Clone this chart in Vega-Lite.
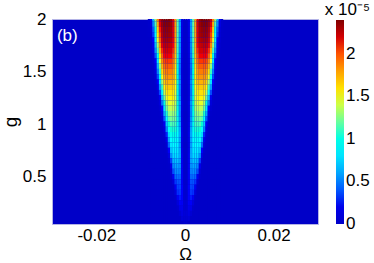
{
  "$schema": "https://vega.github.io/schema/vega-lite/v6.json",
  "width": 266,
  "height": 205,
  "autosize": "none",
  "padding": {"left": 52, "top": 19, "right": 56, "bottom": 39},
  "config": {
    "font": "Liberation Sans",
    "view": {"fill": "#0000c8", "stroke": "#b4b4e6", "strokeWidth": 1}
  },
  "datasets": {
    "heat": [
      {"g": 1.975, "g2": 2.025, "o": [-0.0085,-0.008,-0.0075,-0.007,-0.0065,-0.006,-0.0055,-0.005,-0.0045,-0.004,-0.0035,-0.003,-0.0025,-0.002,-0.0015,-0.001,-0.0005,0,0.0005,0.001,0.0015,0.002,0.0025,0.003,0.0035,0.004,0.0045,0.005,0.0055,0.006,0.0065,0.007,0.0075,0.008], "v": [0.04,0.21,0.65,1.3,1.87,2.23,2.36,2.4,2.4,2.4,2.35,2.18,1.8,1.18,0.55,0.17,0.03,0.03,0.17,0.55,1.18,1.8,2.18,2.35,2.4,2.4,2.4,2.36,2.23,1.87,1.3,0.65,0.21,0.04]},
      {"g": 1.925, "g2": 1.975, "o": [-0.0085,-0.008,-0.0075,-0.007,-0.0065,-0.006,-0.0055,-0.005,-0.0045,-0.004,-0.0035,-0.003,-0.0025,-0.002,-0.0015,-0.001,-0.0005,0,0.0005,0.001,0.0015,0.002,0.0025,0.003,0.0035,0.004,0.0045,0.005,0.0055,0.006,0.0065,0.007,0.0075,0.008], "v": [0.02,0.15,0.52,1.15,1.75,2.17,2.33,2.38,2.38,2.38,2.34,2.18,1.8,1.18,0.55,0.16,0.02,0.02,0.16,0.55,1.18,1.8,2.18,2.34,2.38,2.38,2.38,2.33,2.17,1.75,1.15,0.52,0.15,0.02]},
      {"g": 1.875, "g2": 1.925, "o": [-0.0085,-0.008,-0.0075,-0.007,-0.0065,-0.006,-0.0055,-0.005,-0.0045,-0.004,-0.0035,-0.003,-0.0025,-0.002,-0.0015,-0.001,-0.0005,0,0.0005,0.001,0.0015,0.002,0.0025,0.003,0.0035,0.004,0.0045,0.005,0.0055,0.006,0.0065,0.007,0.0075,0.008], "v": [0.01,0.09,0.4,0.99,1.63,2.09,2.29,2.35,2.35,2.35,2.32,2.16,1.8,1.18,0.54,0.15,0.02,0.02,0.15,0.54,1.18,1.8,2.16,2.32,2.35,2.35,2.35,2.29,2.09,1.63,0.99,0.4,0.09,0.01]},
      {"g": 1.825, "g2": 1.875, "o": [-0.0085,-0.008,-0.0075,-0.007,-0.0065,-0.006,-0.0055,-0.005,-0.0045,-0.004,-0.0035,-0.003,-0.0025,-0.002,-0.0015,-0.001,-0.0005,0,0.0005,0.001,0.0015,0.002,0.0025,0.003,0.0035,0.004,0.0045,0.005,0.0055,0.006,0.0065,0.007,0.0075,0.008], "v": [0.01,0.07,0.35,0.91,1.55,2.04,2.26,2.33,2.33,2.33,2.31,2.16,1.79,1.16,0.54,0.15,0.02,0.02,0.15,0.54,1.16,1.79,2.16,2.31,2.33,2.33,2.33,2.26,2.04,1.55,0.91,0.35,0.07,0.01]},
      {"g": 1.775, "g2": 1.825, "o": [-0.0085,-0.008,-0.0075,-0.007,-0.0065,-0.006,-0.0055,-0.005,-0.0045,-0.004,-0.0035,-0.003,-0.0025,-0.002,-0.0015,-0.001,-0.0005,0,0.0005,0.001,0.0015,0.002,0.0025,0.003,0.0035,0.004,0.0045,0.005,0.0055,0.006,0.0065,0.007,0.0075,0.008], "v": [0,0.06,0.3,0.83,1.47,1.98,2.22,2.3,2.3,2.3,2.28,2.14,1.77,1.15,0.53,0.14,0.02,0.02,0.14,0.53,1.15,1.77,2.14,2.28,2.3,2.3,2.3,2.22,1.98,1.47,0.83,0.3,0.06,0]},
      {"g": 1.725, "g2": 1.775, "o": [-0.0085,-0.008,-0.0075,-0.007,-0.0065,-0.006,-0.0055,-0.005,-0.0045,-0.004,-0.0035,-0.003,-0.0025,-0.002,-0.0015,-0.001,-0.0005,0,0.0005,0.001,0.0015,0.002,0.0025,0.003,0.0035,0.004,0.0045,0.005,0.0055,0.006,0.0065,0.007,0.0075,0.008], "v": [0,0.03,0.21,0.67,1.32,1.88,2.15,2.25,2.25,2.25,2.23,2.1,1.76,1.14,0.51,0.13,0.02,0.02,0.13,0.51,1.14,1.76,2.1,2.23,2.25,2.25,2.25,2.15,1.88,1.32,0.67,0.21,0.03,0]},
      {"g": 1.675, "g2": 1.725, "o": [-0.0085,-0.008,-0.0075,-0.007,-0.0065,-0.006,-0.0055,-0.005,-0.0045,-0.004,-0.0035,-0.003,-0.0025,-0.002,-0.0015,-0.001,-0.0005,0,0.0005,0.001,0.0015,0.002,0.0025,0.003,0.0035,0.004,0.0045,0.005,0.0055,0.006,0.0065,0.007,0.0075,0.008], "v": [0,0.02,0.13,0.53,1.16,1.76,2.07,2.19,2.2,2.2,2.2,2.07,1.74,1.12,0.5,0.13,0.02,0.02,0.13,0.5,1.12,1.74,2.07,2.2,2.2,2.2,2.19,2.07,1.76,1.16,0.53,0.13,0.02,0]},
      {"g": 1.625, "g2": 1.675, "o": [-0.0085,-0.008,-0.0075,-0.007,-0.0065,-0.006,-0.0055,-0.005,-0.0045,-0.004,-0.0035,-0.003,-0.0025,-0.002,-0.0015,-0.001,-0.0005,0,0.0005,0.001,0.0015,0.002,0.0025,0.003,0.0035,0.004,0.0045,0.005,0.0055,0.006,0.0065,0.007,0.0075,0.008], "v": [0,0.01,0.08,0.39,0.99,1.61,1.97,2.11,2.13,2.13,2.13,2.01,1.69,1.1,0.48,0.12,0.01,0.01,0.12,0.48,1.1,1.69,2.01,2.13,2.13,2.13,2.11,1.97,1.61,0.99,0.39,0.08,0.01,0]},
      {"g": 1.575, "g2": 1.625, "o": [-0.0085,-0.008,-0.0075,-0.007,-0.0065,-0.006,-0.0055,-0.005,-0.0045,-0.004,-0.0035,-0.003,-0.0025,-0.002,-0.0015,-0.001,-0.0005,0,0.0005,0.001,0.0015,0.002,0.0025,0.003,0.0035,0.004,0.0045,0.005,0.0055,0.006,0.0065,0.007,0.0075,0.008], "v": [0,0,0.05,0.28,0.81,1.46,1.86,2.02,2.05,2.05,2.05,1.95,1.66,1.07,0.46,0.1,0.01,0.01,0.1,0.46,1.07,1.66,1.95,2.05,2.05,2.05,2.02,1.86,1.46,0.81,0.28,0.05,0,0]},
      {"g": 1.525, "g2": 1.575, "o": [-0.0085,-0.008,-0.0075,-0.007,-0.0065,-0.006,-0.0055,-0.005,-0.0045,-0.004,-0.0035,-0.003,-0.0025,-0.002,-0.0015,-0.001,-0.0005,0,0.0005,0.001,0.0015,0.002,0.0025,0.003,0.0035,0.004,0.0045,0.005,0.0055,0.006,0.0065,0.007,0.0075,0.008], "v": [0,0,0.02,0.19,0.64,1.29,1.74,1.94,1.98,1.98,1.98,1.89,1.6,1.04,0.44,0.1,0.01,0.01,0.1,0.44,1.04,1.6,1.89,1.98,1.98,1.98,1.94,1.74,1.29,0.64,0.19,0.02,0,0]},
      {"g": 1.475, "g2": 1.525, "o": [-0.0085,-0.008,-0.0075,-0.007,-0.0065,-0.006,-0.0055,-0.005,-0.0045,-0.004,-0.0035,-0.003,-0.0025,-0.002,-0.0015,-0.001,-0.0005,0,0.0005,0.001,0.0015,0.002,0.0025,0.003,0.0035,0.004,0.0045,0.005,0.0055,0.006,0.0065,0.007,0.0075,0.008], "v": [0,0,0.01,0.11,0.49,1.12,1.62,1.84,1.9,1.9,1.9,1.82,1.56,1.01,0.42,0.09,0.01,0.01,0.09,0.42,1.01,1.56,1.82,1.9,1.9,1.9,1.84,1.62,1.12,0.49,0.11,0.01,0,0]},
      {"g": 1.425, "g2": 1.475, "o": [-0.0085,-0.008,-0.0075,-0.007,-0.0065,-0.006,-0.0055,-0.005,-0.0045,-0.004,-0.0035,-0.003,-0.0025,-0.002,-0.0015,-0.001,-0.0005,0,0.0005,0.001,0.0015,0.002,0.0025,0.003,0.0035,0.004,0.0045,0.005,0.0055,0.006,0.0065,0.007,0.0075,0.008], "v": [0,0,0,0.07,0.37,0.95,1.48,1.75,1.83,1.83,1.83,1.78,1.56,1.04,0.46,0.1,0.01,0.01,0.1,0.46,1.04,1.56,1.78,1.83,1.83,1.83,1.75,1.48,0.95,0.37,0.07,0,0,0]},
      {"g": 1.375, "g2": 1.425, "o": [-0.0085,-0.008,-0.0075,-0.007,-0.0065,-0.006,-0.0055,-0.005,-0.0045,-0.004,-0.0035,-0.003,-0.0025,-0.002,-0.0015,-0.001,-0.0005,0,0.0005,0.001,0.0015,0.002,0.0025,0.003,0.0035,0.004,0.0045,0.005,0.0055,0.006,0.0065,0.007,0.0075,0.008], "v": [0,0,0,0.04,0.25,0.79,1.32,1.65,1.75,1.75,1.75,1.72,1.53,1.07,0.5,0.12,0.01,0.01,0.12,0.5,1.07,1.53,1.72,1.75,1.75,1.75,1.65,1.32,0.79,0.25,0.04,0,0,0]},
      {"g": 1.325, "g2": 1.375, "o": [-0.0085,-0.008,-0.0075,-0.007,-0.0065,-0.006,-0.0055,-0.005,-0.0045,-0.004,-0.0035,-0.003,-0.0025,-0.002,-0.0015,-0.001,-0.0005,0,0.0005,0.001,0.0015,0.002,0.0025,0.003,0.0035,0.004,0.0045,0.005,0.0055,0.006,0.0065,0.007,0.0075,0.008], "v": [0,0,0,0.01,0.13,0.57,1.13,1.52,1.66,1.68,1.68,1.65,1.49,1.05,0.48,0.11,0.01,0.01,0.11,0.48,1.05,1.49,1.65,1.68,1.68,1.66,1.52,1.13,0.57,0.13,0.01,0,0,0]},
      {"g": 1.275, "g2": 1.325, "o": [-0.0085,-0.008,-0.0075,-0.007,-0.0065,-0.006,-0.0055,-0.005,-0.0045,-0.004,-0.0035,-0.003,-0.0025,-0.002,-0.0015,-0.001,-0.0005,0,0.0005,0.001,0.0015,0.002,0.0025,0.003,0.0035,0.004,0.0045,0.005,0.0055,0.006,0.0065,0.007,0.0075,0.008], "v": [0,0,0,0,0.06,0.37,0.91,1.38,1.57,1.6,1.6,1.58,1.44,1.02,0.46,0.1,0.01,0.01,0.1,0.46,1.02,1.44,1.58,1.6,1.6,1.57,1.38,0.91,0.37,0.06,0,0,0,0]},
      {"g": 1.225, "g2": 1.275, "o": [-0.0085,-0.008,-0.0075,-0.007,-0.0065,-0.006,-0.0055,-0.005,-0.0045,-0.004,-0.0035,-0.003,-0.0025,-0.002,-0.0015,-0.001,-0.0005,0,0.0005,0.001,0.0015,0.002,0.0025,0.003,0.0035,0.004,0.0045,0.005,0.0055,0.006,0.0065,0.007,0.0075,0.008], "v": [0,0,0,0,0.02,0.21,0.7,1.21,1.47,1.53,1.53,1.53,1.42,1.04,0.5,0.11,0.01,0.01,0.11,0.5,1.04,1.42,1.53,1.53,1.53,1.47,1.21,0.7,0.21,0.02,0,0,0,0]},
      {"g": 1.175, "g2": 1.225, "o": [-0.0085,-0.008,-0.0075,-0.007,-0.0065,-0.006,-0.0055,-0.005,-0.0045,-0.004,-0.0035,-0.003,-0.0025,-0.002,-0.0015,-0.001,-0.0005,0,0.0005,0.001,0.0015,0.002,0.0025,0.003,0.0035,0.004,0.0045,0.005,0.0055,0.006,0.0065,0.007,0.0075,0.008], "v": [0,0,0,0,0.01,0.1,0.48,1.02,1.35,1.45,1.45,1.45,1.37,1.06,0.54,0.13,0.01,0.01,0.13,0.54,1.06,1.37,1.45,1.45,1.45,1.35,1.02,0.48,0.1,0.01,0,0,0,0]},
      {"g": 1.125, "g2": 1.175, "o": [-0.0085,-0.008,-0.0075,-0.007,-0.0065,-0.006,-0.0055,-0.005,-0.0045,-0.004,-0.0035,-0.003,-0.0025,-0.002,-0.0015,-0.001,-0.0005,0,0.0005,0.001,0.0015,0.002,0.0025,0.003,0.0035,0.004,0.0045,0.005,0.0055,0.006,0.0065,0.007,0.0075,0.008], "v": [0,0,0,0,0,0.04,0.3,0.81,1.22,1.37,1.38,1.38,1.32,1.03,0.51,0.11,0.01,0.01,0.11,0.51,1.03,1.32,1.38,1.38,1.37,1.22,0.81,0.3,0.04,0,0,0,0,0]},
      {"g": 1.075, "g2": 1.125, "o": [-0.0085,-0.008,-0.0075,-0.007,-0.0065,-0.006,-0.0055,-0.005,-0.0045,-0.004,-0.0035,-0.003,-0.0025,-0.002,-0.0015,-0.001,-0.0005,0,0.0005,0.001,0.0015,0.002,0.0025,0.003,0.0035,0.004,0.0045,0.005,0.0055,0.006,0.0065,0.007,0.0075,0.008], "v": [0,0,0,0,0,0.01,0.16,0.61,1.08,1.27,1.3,1.3,1.25,0.99,0.49,0.1,0,0,0.1,0.49,0.99,1.25,1.3,1.3,1.27,1.08,0.61,0.16,0.01,0,0,0,0,0]},
      {"g": 1.025, "g2": 1.075, "o": [-0.0085,-0.008,-0.0075,-0.007,-0.0065,-0.006,-0.0055,-0.005,-0.0045,-0.004,-0.0035,-0.003,-0.0025,-0.002,-0.0015,-0.001,-0.0005,0,0.0005,0.001,0.0015,0.002,0.0025,0.003,0.0035,0.004,0.0045,0.005,0.0055,0.006,0.0065,0.007,0.0075,0.008], "v": [0,0,0,0,0,0,0.07,0.41,0.9,1.17,1.23,1.23,1.21,1,0.53,0.11,0,0,0.11,0.53,1,1.21,1.23,1.23,1.17,0.9,0.41,0.07,0,0,0,0,0,0]},
      {"g": 0.975, "g2": 1.025, "o": [-0.0085,-0.008,-0.0075,-0.007,-0.0065,-0.006,-0.0055,-0.005,-0.0045,-0.004,-0.0035,-0.003,-0.0025,-0.002,-0.0015,-0.001,-0.0005,0,0.0005,0.001,0.0015,0.002,0.0025,0.003,0.0035,0.004,0.0045,0.005,0.0055,0.006,0.0065,0.007,0.0075,0.008], "v": [0,0,0,0,0,0,0.02,0.23,0.71,1.06,1.15,1.15,1.14,0.98,0.55,0.13,0.01,0.01,0.13,0.55,0.98,1.14,1.15,1.15,1.06,0.71,0.23,0.02,0,0,0,0,0,0]},
      {"g": 0.925, "g2": 0.975, "o": [-0.0085,-0.008,-0.0075,-0.007,-0.0065,-0.006,-0.0055,-0.005,-0.0045,-0.004,-0.0035,-0.003,-0.0025,-0.002,-0.0015,-0.001,-0.0005,0,0.0005,0.001,0.0015,0.002,0.0025,0.003,0.0035,0.004,0.0045,0.005,0.0055,0.006,0.0065,0.007,0.0075,0.008], "v": [0,0,0,0,0,0,0,0.11,0.51,0.92,1.07,1.08,1.08,0.96,0.58,0.15,0.01,0.01,0.15,0.58,0.96,1.08,1.08,1.07,0.92,0.51,0.11,0,0,0,0,0,0,0]},
      {"g": 0.875, "g2": 0.925, "o": [-0.0085,-0.008,-0.0075,-0.007,-0.0065,-0.006,-0.0055,-0.005,-0.0045,-0.004,-0.0035,-0.003,-0.0025,-0.002,-0.0015,-0.001,-0.0005,0,0.0005,0.001,0.0015,0.002,0.0025,0.003,0.0035,0.004,0.0045,0.005,0.0055,0.006,0.0065,0.007,0.0075,0.008], "v": [0,0,0,0,0,0,0,0.04,0.32,0.77,0.97,1,1,0.92,0.6,0.17,0.01,0.01,0.17,0.6,0.92,1,1,0.97,0.77,0.32,0.04,0,0,0,0,0,0,0]},
      {"g": 0.825, "g2": 0.875, "o": [-0.0085,-0.008,-0.0075,-0.007,-0.0065,-0.006,-0.0055,-0.005,-0.0045,-0.004,-0.0035,-0.003,-0.0025,-0.002,-0.0015,-0.001,-0.0005,0,0.0005,0.001,0.0015,0.002,0.0025,0.003,0.0035,0.004,0.0045,0.005,0.0055,0.006,0.0065,0.007,0.0075,0.008], "v": [0,0,0,0,0,0,0,0.01,0.18,0.61,0.9,0.95,0.95,0.89,0.58,0.15,0.01,0.01,0.15,0.58,0.89,0.95,0.95,0.9,0.61,0.18,0.01,0,0,0,0,0,0,0]},
      {"g": 0.775, "g2": 0.825, "o": [-0.0085,-0.008,-0.0075,-0.007,-0.0065,-0.006,-0.0055,-0.005,-0.0045,-0.004,-0.0035,-0.003,-0.0025,-0.002,-0.0015,-0.001,-0.0005,0,0.0005,0.001,0.0015,0.002,0.0025,0.003,0.0035,0.004,0.0045,0.005,0.0055,0.006,0.0065,0.007,0.0075,0.008], "v": [0,0,0,0,0,0,0,0,0.07,0.44,0.81,0.9,0.9,0.86,0.57,0.14,0,0,0.14,0.57,0.86,0.9,0.9,0.81,0.44,0.07,0,0,0,0,0,0,0,0]},
      {"g": 0.725, "g2": 0.775, "o": [-0.0085,-0.008,-0.0075,-0.007,-0.0065,-0.006,-0.0055,-0.005,-0.0045,-0.004,-0.0035,-0.003,-0.0025,-0.002,-0.0015,-0.001,-0.0005,0,0.0005,0.001,0.0015,0.002,0.0025,0.003,0.0035,0.004,0.0045,0.005,0.0055,0.006,0.0065,0.007,0.0075,0.008], "v": [0,0,0,0,0,0,0,0,0.02,0.27,0.68,0.83,0.84,0.81,0.59,0.16,0.01,0.01,0.16,0.59,0.81,0.84,0.83,0.68,0.27,0.02,0,0,0,0,0,0,0,0]},
      {"g": 0.675, "g2": 0.725, "o": [-0.0085,-0.008,-0.0075,-0.007,-0.0065,-0.006,-0.0055,-0.005,-0.0045,-0.004,-0.0035,-0.003,-0.0025,-0.002,-0.0015,-0.001,-0.0005,0,0.0005,0.001,0.0015,0.002,0.0025,0.003,0.0035,0.004,0.0045,0.005,0.0055,0.006,0.0065,0.007,0.0075,0.008], "v": [0,0,0,0,0,0,0,0,0,0.12,0.53,0.76,0.78,0.77,0.6,0.19,0.01,0.01,0.19,0.6,0.77,0.78,0.76,0.53,0.12,0,0,0,0,0,0,0,0,0]},
      {"g": 0.625, "g2": 0.675, "o": [-0.0085,-0.008,-0.0075,-0.007,-0.0065,-0.006,-0.0055,-0.005,-0.0045,-0.004,-0.0035,-0.003,-0.0025,-0.002,-0.0015,-0.001,-0.0005,0,0.0005,0.001,0.0015,0.002,0.0025,0.003,0.0035,0.004,0.0045,0.005,0.0055,0.006,0.0065,0.007,0.0075,0.008], "v": [0,0,0,0,0,0,0,0,0,0.04,0.35,0.64,0.69,0.69,0.57,0.21,0.01,0.01,0.21,0.57,0.69,0.69,0.64,0.35,0.04,0,0,0,0,0,0,0,0,0]},
      {"g": 0.575, "g2": 0.625, "o": [-0.0085,-0.008,-0.0075,-0.007,-0.0065,-0.006,-0.0055,-0.005,-0.0045,-0.004,-0.0035,-0.003,-0.0025,-0.002,-0.0015,-0.001,-0.0005,0,0.0005,0.001,0.0015,0.002,0.0025,0.003,0.0035,0.004,0.0045,0.005,0.0055,0.006,0.0065,0.007,0.0075,0.008], "v": [0,0,0,0,0,0,0,0,0,0.01,0.19,0.51,0.6,0.6,0.53,0.22,0.01,0.01,0.22,0.53,0.6,0.6,0.51,0.19,0.01,0,0,0,0,0,0,0,0,0]},
      {"g": 0.525, "g2": 0.575, "o": [-0.0085,-0.008,-0.0075,-0.007,-0.0065,-0.006,-0.0055,-0.005,-0.0045,-0.004,-0.0035,-0.003,-0.0025,-0.002,-0.0015,-0.001,-0.0005,0,0.0005,0.001,0.0015,0.002,0.0025,0.003,0.0035,0.004,0.0045,0.005,0.0055,0.006,0.0065,0.007,0.0075,0.008], "v": [0,0,0,0,0,0,0,0,0,0,0.07,0.38,0.52,0.53,0.49,0.23,0.01,0.01,0.23,0.49,0.53,0.52,0.38,0.07,0,0,0,0,0,0,0,0,0,0]},
      {"g": 0.475, "g2": 0.525, "o": [-0.0085,-0.008,-0.0075,-0.007,-0.0065,-0.006,-0.0055,-0.005,-0.0045,-0.004,-0.0035,-0.003,-0.0025,-0.002,-0.0015,-0.001,-0.0005,0,0.0005,0.001,0.0015,0.002,0.0025,0.003,0.0035,0.004,0.0045,0.005,0.0055,0.006,0.0065,0.007,0.0075,0.008], "v": [0,0,0,0,0,0,0,0,0,0,0.02,0.23,0.43,0.45,0.43,0.23,0.02,0.02,0.23,0.43,0.45,0.43,0.23,0.02,0,0,0,0,0,0,0,0,0,0]},
      {"g": 0.425, "g2": 0.475, "o": [-0.0085,-0.008,-0.0075,-0.007,-0.0065,-0.006,-0.0055,-0.005,-0.0045,-0.004,-0.0035,-0.003,-0.0025,-0.002,-0.0015,-0.001,-0.0005,0,0.0005,0.001,0.0015,0.002,0.0025,0.003,0.0035,0.004,0.0045,0.005,0.0055,0.006,0.0065,0.007,0.0075,0.008], "v": [0,0,0,0,0,0,0,0,0,0,0,0.09,0.34,0.39,0.38,0.24,0.02,0.02,0.24,0.38,0.39,0.34,0.09,0,0,0,0,0,0,0,0,0,0,0]},
      {"g": 0.375, "g2": 0.425, "o": [-0.0085,-0.008,-0.0075,-0.007,-0.0065,-0.006,-0.0055,-0.005,-0.0045,-0.004,-0.0035,-0.003,-0.0025,-0.002,-0.0015,-0.001,-0.0005,0,0.0005,0.001,0.0015,0.002,0.0025,0.003,0.0035,0.004,0.0045,0.005,0.0055,0.006,0.0065,0.007,0.0075,0.008], "v": [0,0,0,0,0,0,0,0,0,0,0,0.01,0.23,0.36,0.36,0.27,0.03,0.03,0.27,0.36,0.36,0.23,0.01,0,0,0,0,0,0,0,0,0,0,0]},
      {"g": 0.325, "g2": 0.375, "o": [-0.0085,-0.008,-0.0075,-0.007,-0.0065,-0.006,-0.0055,-0.005,-0.0045,-0.004,-0.0035,-0.003,-0.0025,-0.002,-0.0015,-0.001,-0.0005,0,0.0005,0.001,0.0015,0.002,0.0025,0.003,0.0035,0.004,0.0045,0.005,0.0055,0.006,0.0065,0.007,0.0075,0.008], "v": [0,0,0,0,0,0,0,0,0,0,0,0,0.1,0.33,0.34,0.29,0.04,0.04,0.29,0.34,0.33,0.1,0,0,0,0,0,0,0,0,0,0,0,0]},
      {"g": 0.275, "g2": 0.325, "o": [-0.0085,-0.008,-0.0075,-0.007,-0.0065,-0.006,-0.0055,-0.005,-0.0045,-0.004,-0.0035,-0.003,-0.0025,-0.002,-0.0015,-0.001,-0.0005,0,0.0005,0.001,0.0015,0.002,0.0025,0.003,0.0035,0.004,0.0045,0.005,0.0055,0.006,0.0065,0.007,0.0075,0.008], "v": [0,0,0,0,0,0,0,0,0,0,0,0,0.02,0.24,0.31,0.28,0.05,0.05,0.28,0.31,0.24,0.02,0,0,0,0,0,0,0,0,0,0,0,0]},
      {"g": 0.225, "g2": 0.275, "o": [-0.0085,-0.008,-0.0075,-0.007,-0.0065,-0.006,-0.0055,-0.005,-0.0045,-0.004,-0.0035,-0.003,-0.0025,-0.002,-0.0015,-0.001,-0.0005,0,0.0005,0.001,0.0015,0.002,0.0025,0.003,0.0035,0.004,0.0045,0.005,0.0055,0.006,0.0065,0.007,0.0075,0.008], "v": [0,0,0,0,0,0,0,0,0,0,0,0,0,0.11,0.26,0.24,0.06,0.06,0.24,0.26,0.11,0,0,0,0,0,0,0,0,0,0,0,0,0]},
      {"g": 0.175, "g2": 0.225, "o": [-0.0085,-0.008,-0.0075,-0.007,-0.0065,-0.006,-0.0055,-0.005,-0.0045,-0.004,-0.0035,-0.003,-0.0025,-0.002,-0.0015,-0.001,-0.0005,0,0.0005,0.001,0.0015,0.002,0.0025,0.003,0.0035,0.004,0.0045,0.005,0.0055,0.006,0.0065,0.007,0.0075,0.008], "v": [0,0,0,0,0,0,0,0,0,0,0,0,0,0.02,0.17,0.19,0.06,0.06,0.19,0.17,0.02,0,0,0,0,0,0,0,0,0,0,0,0,0]},
      {"g": 0.125, "g2": 0.175, "o": [-0.0085,-0.008,-0.0075,-0.007,-0.0065,-0.006,-0.0055,-0.005,-0.0045,-0.004,-0.0035,-0.003,-0.0025,-0.002,-0.0015,-0.001,-0.0005,0,0.0005,0.001,0.0015,0.002,0.0025,0.003,0.0035,0.004,0.0045,0.005,0.0055,0.006,0.0065,0.007,0.0075,0.008], "v": [0,0,0,0,0,0,0,0,0,0,0,0,0,0,0.06,0.14,0.08,0.08,0.14,0.06,0,0,0,0,0,0,0,0,0,0,0,0,0,0]},
      {"g": 0.075, "g2": 0.125, "o": [-0.0085,-0.008,-0.0075,-0.007,-0.0065,-0.006,-0.0055,-0.005,-0.0045,-0.004,-0.0035,-0.003,-0.0025,-0.002,-0.0015,-0.001,-0.0005,0,0.0005,0.001,0.0015,0.002,0.0025,0.003,0.0035,0.004,0.0045,0.005,0.0055,0.006,0.0065,0.007,0.0075,0.008], "v": [0,0,0,0,0,0,0,0,0,0,0,0,0,0,0,0.09,0.06,0.06,0.09,0,0,0,0,0,0,0,0,0,0,0,0,0,0,0]},
      {"g": 0.025, "g2": 0.075, "o": [-0.0085,-0.008,-0.0075,-0.007,-0.0065,-0.006,-0.0055,-0.005,-0.0045,-0.004,-0.0035,-0.003,-0.0025,-0.002,-0.0015,-0.001,-0.0005,0,0.0005,0.001,0.0015,0.002,0.0025,0.003,0.0035,0.004,0.0045,0.005,0.0055,0.006,0.0065,0.007,0.0075,0.008], "v": [0,0,0,0,0,0,0,0,0,0,0,0,0,0,0,0,0.04,0.04,0,0,0,0,0,0,0,0,0,0,0,0,0,0,0,0]}
    ]
  },
  "layer": [
    {
      "data": {"name": "heat"},
      "transform": [{"flatten": ["o", "v"]}],
      "mark": {"type": "rect", "clip": true, "strokeWidth": 0},
      "encoding": {
        "x": {
          "field": "o", "type": "quantitative",
          "bin": {"binned": true, "step": 0.0005},
          "scale": {"domain": [-0.03, 0.03], "nice": false, "zero": false},
          "title": "Ω",
          "axis": {
            "values": [-0.02, 0, 0.02], "format": ".2~f",
            "labelExpr": "replace(datum.label, '−', '-')",
            "ticks": false, "domain": false, "grid": false,
            "labelFontSize": 17, "labelPadding": 3, "labelColor": "black",
            "titleFontSize": 17, "titleFontWeight": "normal", "titlePadding": 3, "titleColor": "black"
          }
        },
        "y": {
          "field": "g", "type": "quantitative",
          "scale": {"domain": [0.05, 2], "nice": false, "zero": false},
          "title": "g",
          "axis": {
            "values": [0.5, 1, 1.5, 2], "format": "~g",
            "ticks": false, "domain": false, "grid": false,
            "labelFontSize": 17, "labelPadding": 6, "labelColor": "black",
            "titleFontSize": 19, "titleFontWeight": "normal", "titlePadding": 2, "titleColor": "black"
          }
        },
        "y2": {"field": "g2"},
        "color": {
          "field": "v", "type": "quantitative",
          "scale": {
            "domain": [-0.001, 0.3, 0.9, 1.5, 2.1, 2.4],
            "range": ["#0000c8", "#0000ff", "#00ffff", "#ffff00", "#ff0000", "#800000"]
          },
          "legend": {
            "orient": "none", "legendX": 273, "legendY": -17,
            "title": "x 10⁻⁵", "titleFontSize": 17, "titleFontWeight": "normal",
            "titleColor": "black", "titleAnchor": "end", "titleAlign": "right", "titlePadding": 1,
            "gradientLength": 204, "gradientThickness": 8, "gradientStrokeWidth": 0,
            "direction": "vertical", "padding": 0,
            "values": [0, 0.5, 1, 1.5, 2], "format": "~g",
            "labelFontSize": 17, "labelOffset": 2, "labelColor": "black", "labelOverlap": false,
            "labelBaseline": "middle"
          }
        }
      }
    },
    {
      "data": {"values": [{"o": -0.0289, "g": 1.84, "t": "(b)"}]},
      "mark": {"type": "text", "align": "left", "baseline": "middle", "color": "white", "fontSize": 17},
      "encoding": {
        "x": {"field": "o", "type": "quantitative"},
        "y": {"field": "g", "type": "quantitative"},
        "text": {"field": "t"}
      }
    }
  ]
}
